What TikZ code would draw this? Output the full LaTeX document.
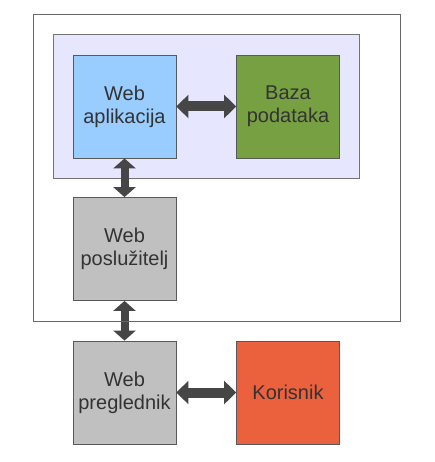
\documentclass[tikz,border=0pt]{standalone}
\usepackage{fontspec}
\setmainfont{Liberation Sans}
\usetikzlibrary{arrows.meta}

\definecolor{appblue}{HTML}{99CCFF}
\definecolor{dbgreen}{HTML}{77A043}
\definecolor{usrred}{HTML}{EB613D}
\definecolor{srvgray}{HTML}{C0C0C0}
\definecolor{lavender}{HTML}{E6E6FF}
\definecolor{txtgray}{HTML}{333333}
\definecolor{arrgray}{HTML}{464646}

\begin{document}
\begin{tikzpicture}[x=1pt,y=-1pt]
				\tikzset{every rectangle node/.style={draw=black!65, line width=0.8pt, rectangle, minimum size=103pt, inner sep=0pt, align=center, text=txtgray, font=\fontsize{20}{23}\selectfont}}
				\tikzset{hlink/.style={arrgray, line width=10pt, {Triangle[width=23pt,length=12pt]}-{Triangle[width=23pt,length=12pt]}}}
				\tikzset{vlink/.style={arrgray, line width=8pt, {Triangle[width=22pt,length=10pt]}-{Triangle[width=22pt,length=10pt]}}}
				\useasboundingbox (0,0) rectangle (434,462);
				\draw[black!55, fill=lavender, line width=0.8pt] (53,34) rectangle (359,178);

				\node[fill=appblue] (webapp) at (124.5, 106.5) {Web\\aplikacija};
				\node[fill=dbgreen] (database) at (288, 106.5) {Baza\\podataka};
				\node[fill=srvgray] (webserver) at (124.5, 249) {Web\\poslužitelj};
				\node[fill=srvgray] (browser) at (124.5, 392.5) {Web\\preglednik};
				\node[fill=usrred] (user) at (288, 392.5) {Korisnik};

				\draw[hlink] (webapp) to[] (database);
				\draw[vlink] (webapp) to[] (webserver);
				\draw[vlink] (webserver) to[] (browser);
				\draw[hlink] (browser) to[] (user);

				\draw[black!60, line width=0.8pt] (33,14) rectangle (400,321);
			\end{tikzpicture}
\end{document}
